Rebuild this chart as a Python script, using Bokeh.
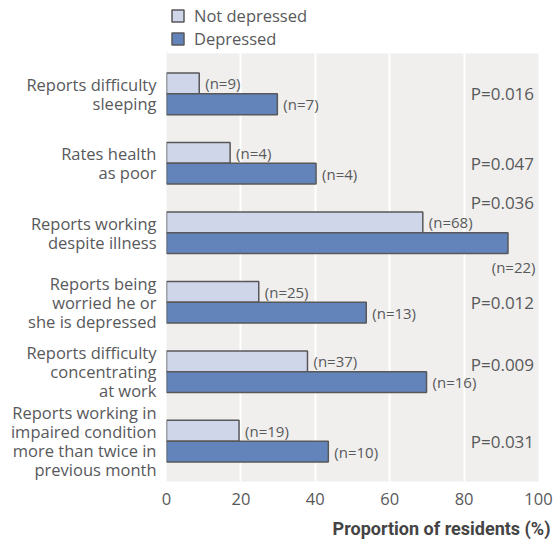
from bokeh.plotting import figure
from bokeh.layouts import column
from bokeh.models import Range1d, FixedTicker, Legend, LegendItem, ColumnDataSource, Title
from bokeh.transform import dodge
from bokeh.core.properties import value
from bokeh.embed import file_html
from bokeh.resources import INLINE

categories = [
    "Reports difficulty\nsleeping",
    "Rates health\nas poor",
    "Reports working\ndespite illness",
    "Reports being\nworried he or\nshe is depressed",
    "Reports difficulty\nconcentrating\nat work",
    "Reports working in\nimpaired condition\nmore than twice in\nprevious month",
]
not_depressed = [8.8, 17.1, 68.9, 24.8, 37.9, 19.5]
depressed = [29.8, 40.2, 91.8, 53.7, 69.9, 43.5]
n_not = ["(n=9)", "(n=4)", "(n=68)", "(n=25)", "(n=37)", "(n=19)"]
n_dep = ["(n=7)", "(n=4)", "(n=22)", "(n=13)", "(n=16)", "(n=10)"]
p_values = ["P=0.016", "P=0.047", "P=0.036", "P=0.012", "P=0.009", "P=0.031"]
series = ["Not depressed", "Depressed"]
x_ticks = [0, 20, 40, 60, 80, 100]

FONT = "Open Sans"
TXT = "#58595b"
LIGHT = "#d0d6e9"
DARK = "#6384bb"
EDGE = "#58585a"
BG = "#f0efed"

idx = list(range(len(categories)))
src = ColumnDataSource(dict(y=idx, nd=not_depressed, d=depressed))

p = figure(width=554, height=494, output_backend="svg", toolbar_location=None,
           x_range=Range1d(0, 100), y_range=Range1d(len(categories) - 1 + 0.58, -0.58),
           min_border_left=166, min_border_right=16, min_border_top=0, min_border_bottom=64)
p.border_fill_color = "white"
p.outline_line_color = None
p.background_fill_color = BG

r1 = p.hbar(y=dodge("y", -0.15), left=0, right="nd", height=0.3, source=src,
            fill_color=LIGHT, line_color=EDGE, line_width=1.5)
r2 = p.hbar(y=dodge("y", 0.15), left=0, right="d", height=0.3, source=src,
            fill_color=DARK, line_color=EDGE, line_width=1.5)

# n labels
p.text(x="nd", y=dodge("y", -0.15), text="lab",
       source=ColumnDataSource(dict(nd=not_depressed, y=idx, lab=n_not)),
       x_offset=6, text_align="left", text_baseline="middle",
       text_font=value(FONT), text_font_size="15px", text_color=TXT)

inside = [i for i in idx if depressed[i] < 85]
outside = [i for i in idx if depressed[i] >= 85]
p.text(x="d", y=dodge("y", 0.15), text="lab",
       source=ColumnDataSource(dict(d=[depressed[i] for i in inside], y=inside,
                                    lab=[n_dep[i] for i in inside])),
       x_offset=6, text_align="left", text_baseline="middle",
       text_font=value(FONT), text_font_size="15px", text_color=TXT)
p.text(x=99.2, y=dodge("y", 0.49), text="lab",
       source=ColumnDataSource(dict(y=outside, lab=[n_dep[i] for i in outside])),
       text_align="right", text_baseline="middle",
       text_font=value(FONT), text_font_size="15px", text_color=TXT)

# P values (nudged up when the bar labels would collide with them)
p_y = [i - 0.43 if i in outside else (i - 0.11 if depressed[i] > 60 else i) for i in idx]
p.text(x=98.8, y="y", text="lab", source=ColumnDataSource(dict(y=p_y, lab=p_values)),
       text_align="right", text_baseline="middle",
       text_font=value(FONT), text_font_size="17px", text_color=TXT)

# axes
p.xaxis.ticker = FixedTicker(ticks=x_ticks)
p.xaxis.axis_line_color = None
p.xaxis.major_tick_line_color = None
p.xaxis.minor_tick_line_color = None
p.xaxis.major_label_standoff = 5
p.xaxis.major_label_text_font = FONT
p.xaxis.major_label_text_font_size = "16.5px"
p.xaxis.major_label_text_color = TXT

p.yaxis.ticker = FixedTicker(ticks=idx)
p.yaxis.major_label_overrides = {i: c for i, c in zip(idx, categories)}
p.yaxis.axis_line_color = None
p.yaxis.major_tick_line_color = None
p.yaxis.minor_tick_line_color = None
p.yaxis.major_label_standoff = 4
p.yaxis.major_label_text_font = FONT
p.yaxis.major_label_text_font_size = "16.5px"
p.yaxis.major_label_text_line_height = 0.83
p.yaxis.major_label_text_color = TXT

p.xgrid.grid_line_color = "white"
p.xgrid.grid_line_width = 2
p.ygrid.grid_line_color = None

p.add_layout(Title(text="Proportion of residents (%)", align="right", offset=-12,
                   text_font="Roboto", text_font_style="bold", text_font_size="18px",
                   text_color="#444444", standoff=17), "below")

# legend in its own strip above the chart
lg = figure(width=554, height=53, output_backend="svg", toolbar_location=None,
            x_range=Range1d(0, 1), y_range=Range1d(0, 1),
            min_border_left=144, min_border_right=0, min_border_top=0, min_border_bottom=0)
lg.axis.visible = False
lg.grid.visible = False
lg.outline_line_color = None
lg.background_fill_color = "white"
lg.border_fill_color = "white"
e1 = lg.hbar(y=[-5], left=[-5], right=[-4], height=0.3,
             fill_color=LIGHT, line_color=EDGE, line_width=1.5)
e2 = lg.hbar(y=[-5], left=[-5], right=[-4], height=0.3,
             fill_color=DARK, line_color=EDGE, line_width=1.5)
legend = Legend(items=[LegendItem(label=series[0], renderers=[e1]),
                       LegendItem(label=series[1], renderers=[e2])],
                location="top_left", orientation="vertical",
                glyph_width=15, glyph_height=15, label_height=15, label_standoff=9,
                spacing=0, padding=0, margin=4,
                border_line_alpha=0, background_fill_alpha=0,
                label_text_font=FONT, label_text_font_size="16.5px", label_text_color=TXT)
lg.add_layout(legend)

layout = column(lg, p, spacing=0)
open("out.html", "w").write(file_html(layout, INLINE))
